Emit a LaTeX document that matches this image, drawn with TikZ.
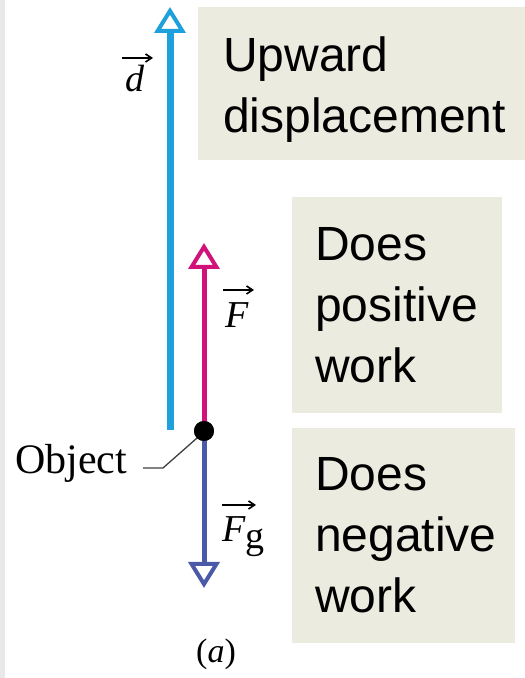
\RequirePackage{fix-cm}
\documentclass[tikz,border=0pt]{standalone}
\usepackage{fontspec}
\setmainfont{Liberation Serif}
\newfontfamily\boxfont{Liberation Sans}
\usetikzlibrary{arrows.meta}
\definecolor{dispblue}{RGB}{30,160,220}
\definecolor{forcemag}{RGB}{208,18,122}
\definecolor{gravblue}{RGB}{74,90,168}
\definecolor{boxfill}{RGB}{235,235,224}
\definecolor{stripgray}{RGB}{232,232,232}
\tikzset{
  vecarrow/.style={line cap=butt, -{Triangle[open,length=26pt,width=31pt,line width=4pt]}},
  notebox/.style={fill=boxfill, draw=none},
  notetext/.style={anchor=north west, inner sep=0pt, align=left, font=\boxfont\fontsize{48}{61}\selectfont},
  veclabel/.style={inner sep=0pt, font=\fontsize{38}{42}\selectfont},
  overarrow/.style={line width=1.6pt, -{Straight Barb[length=6pt,width=8pt]}},
}
\begin{document}
\begin{tikzpicture}[x=1pt,y=1pt]
\useasboundingbox (0,0) rectangle (525,678);
\fill[white] (0,0) rectangle (525,678);
\fill[stripgray] (0,0) rectangle (5,678);
% boxes
\fill[notebox] (198,518) rectangle (525,671);
\fill[notebox] (292,265) rectangle (502,481);
\fill[notebox] (292,35) rectangle (515,250);
\node[notetext] (t1) at (223,641) {Upward\\displacement};
\node[notetext] (t2) at (315,451) {Does\\positive\\work};
\node[notetext] (t3) at (315,221) {Does\\negative\\work};
% arrows
\coordinate (dbot) at (170,248);
\coordinate (dtip) at (170,671);
\coordinate (Ftip) at (204,435);
\coordinate (Fgtip) at (204,90);
\node[circle, fill=black, minimum size=20pt, inner sep=0pt] (obj) at (204,247) {};
\draw[dispblue, line width=7pt, vecarrow] (dbot) -- (dtip);
\draw[forcemag, line width=5pt, vecarrow] (obj.center) ++(0,9) -- (Ftip);
\draw[gravblue, line width=5pt, vecarrow] (obj.center) ++(0,-9) -- (Fgtip);
\node[circle, fill=black, minimum size=20pt, inner sep=0pt] at (obj) {};
% labels
\node[veclabel] (dl) at (135,599) {\textit{d}};
\coordinate (da) at (122,620);
\coordinate (db) at (153,620);
\draw[overarrow] (da) -- (db);
\node[veclabel] (Fl) at (237,363) {\textit{F}};
\coordinate (Fa) at (223,388);
\coordinate (Fb) at (254,388);
\draw[overarrow] (Fa) -- (Fb);
\node[veclabel, anchor=base west] (Fgl) at (222,136) {$\textit{F}_{\textrm{g}}$};
\coordinate (Fga) at (222,173);
\coordinate (Fgb) at (256,173);
\draw[overarrow] (Fga) -- (Fgb);
\node[inner sep=0pt, font=\fontsize{42}{46}\selectfont] (objl) at (71,215) {Object};
\coordinate (lead1) at (143,210);
\coordinate (lead2) at (163,210);
\draw[black!75, line width=1.3pt] (lead1) -- (lead2) -- (obj.south west);
\node[inner sep=0pt, font=\fontsize{34}{38}\selectfont] (cap) at (216,24) {(\textit{a})};
\end{tikzpicture}
\end{document}
